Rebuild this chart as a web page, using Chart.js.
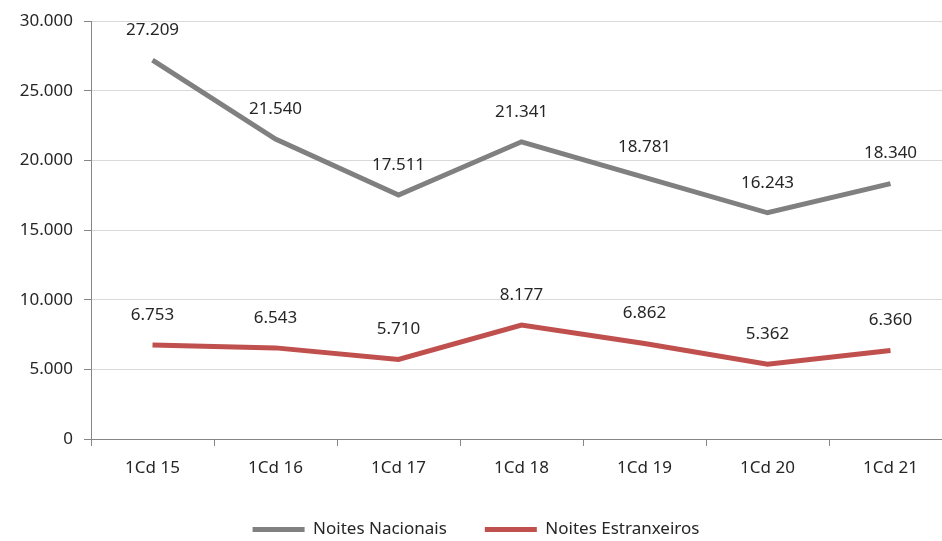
<!DOCTYPE html>
<html>
<head>
<meta charset="utf-8">
<script src="https://cdn.jsdelivr.net/npm/chart.js@4.4.0/dist/chart.umd.min.js"></script>
<style>
  html, body { margin: 0; padding: 0; background: #fff; overflow: hidden; }
  #wrap { width: 953px; height: 541px; }
</style>
</head>
<body>
<div id="wrap"><canvas id="chart"></canvas></div>
<script>
// chart data
const categories = ["1Cd 15", "1Cd 16", "1Cd 17", "1Cd 18", "1Cd 19", "1Cd 20", "1Cd 21"];
const noitesNacionais = [27209, 21540, 17511, 21341, 18781, 16243, 18340];
const noitesEstrangeiros = [6753, 6543, 5710, 8177, 6862, 5362, 6360];

// 12345 -> "12.345"
function fmt(v) {
  return String(Math.round(v)).replace(/\B(?=(\d{3})+(?!\d))/g, ".");
}

const FONT = "'Noto Sans', sans-serif";

// draws the value above each point
const valueLabels = {
  id: "valueLabels",
  afterDatasetsDraw(chart) {
    const ctx = chart.ctx;
    ctx.save();
    ctx.font = "17px " + FONT;
    ctx.fillStyle = "#262626";
    ctx.textAlign = "center";
    ctx.textBaseline = "middle";
    chart.data.datasets.forEach((ds, i) => {
      const meta = chart.getDatasetMeta(i);
      meta.data.forEach((pt, j) => {
        ctx.fillText(fmt(ds.data[j]), pt.x, pt.y - 30);
      });
    });
    ctx.restore();
  }
};

new Chart(document.getElementById("chart"), {
  type: "line",
  data: {
    labels: categories,
    datasets: [
      {
        label: "Noites Nacionais",
        data: noitesNacionais,
        borderColor: "#808080",
        backgroundColor: "#808080",
        borderWidth: 5,
        pointRadius: 0,
        tension: 0
      },
      {
        label: "Noites Estranxeiros",
        data: noitesEstrangeiros,
        borderColor: "#C0504D",
        backgroundColor: "#C0504D",
        borderWidth: 5,
        pointRadius: 0,
        tension: 0
      }
    ]
  },
  options: {
    responsive: true,
    maintainAspectRatio: false,
    animation: false,
    layout: { padding: { top: 15, left: 0, right: 1, bottom: -7 } },
    plugins: {
      tooltip: { enabled: false },
      legend: {
        position: "bottom",
        labels: {
          font: { family: FONT, size: 17 },
          color: "#262626",
          usePointStyle: true,
          pointStyle: "line",
          pointStyleWidth: 52,
          padding: 38
        }
      }
    },
    scales: {
      x: {
        offset: true,
        grid: {
          offset: true,
          drawOnChartArea: false,
          drawTicks: true,
          tickLength: 7,
          color: "#868686"
        },
        border: { color: "#868686", width: 1 },
        ticks: {
          font: { family: FONT, size: 17 },
          color: "#262626",
          padding: 12
        },
        afterFit(scale) { scale.height = 44; }
      },
      y: {
        min: 0,
        max: 30000,
        ticks: {
          stepSize: 5000,
          font: { family: FONT, size: 17 },
          color: "#262626",
          padding: 11,
          callback: (v) => fmt(v)
        },
        grid: {
          color: "#d9d9d9",
          tickColor: "#868686",
          tickLength: 7
        },
        border: { color: "#868686", width: 1 },
        afterFit(scale) { scale.width = 91; }
      }
    }
  },
  plugins: [valueLabels]
});
</script>
</body>
</html>
